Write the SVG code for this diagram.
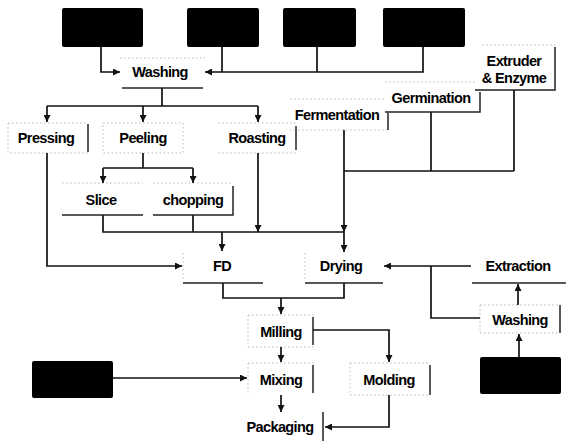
<svg xmlns="http://www.w3.org/2000/svg" width="566" height="441" viewBox="0 0 566 441">
<defs>
<marker id="ah" viewBox="0 0 7 7" refX="7" refY="3.5" markerWidth="7" markerHeight="7" markerUnits="userSpaceOnUse" orient="auto">
<path d="M0,0 L7,3.5 L0,7 z" fill="#111"/>
</marker>
<style>
.t{font-family:"Liberation Sans",Arial,sans-serif;font-weight:bold;font-size:14.5px;text-anchor:middle;fill:#000;letter-spacing:-0.6px}
.blk{fill:#000}
.dot{stroke:#b0b0b0;stroke-width:0.9;stroke-dasharray:1.5 2.5;fill:none}
.sol{stroke:#222;stroke-width:1.5;fill:none}
.e{stroke:#111;stroke-width:1.7;fill:none}
.a{marker-end:url(#ah)}
</style>
</defs>
<rect width="566" height="441" fill="#fff"/>

<g id="src1"><rect class="blk" x="62" y="8" width="81" height="39" rx="2"/></g>
<g id="src2"><rect class="blk" x="187" y="8" width="72" height="39" rx="2"/></g>
<g id="src3"><rect class="blk" x="283" y="8" width="73" height="39" rx="2"/></g>
<g id="src4"><rect class="blk" x="383" y="8" width="82" height="39" rx="2"/></g>
<g id="src5"><rect class="blk" x="480" y="357" width="81" height="37" rx="2"/></g>
<g id="src6"><rect class="blk" x="32" y="361" width="81" height="37" rx="2"/></g>

<g id="washing1">
<path class="dot" d="M120 58 H205"/>
<path class="sol" d="M122 88 H203"/>
<text class="t" x="160" y="77">Washing</text>
</g>
<g id="pressing">
<path class="dot" d="M8 123 H88 M8 123 V153 H88"/>
<path class="sol" d="M88 124 V152"/>
<text class="t" x="46" y="143">Pressing</text>
</g>
<g id="peeling">
<path class="dot" d="M103 123 H183 V153 H103 Z"/>
<text class="t" x="143" y="143">Peeling</text>
</g>
<g id="roasting">
<path class="dot" d="M218 123 H296 M218 153 H296"/>
<path class="sol" d="M296 126 V150"/>
<text class="t" x="257" y="143">Roasting</text>
</g>
<g id="fermentation">
<path class="dot" d="M290 99 H385 M290 130 H388"/>
<path class="sol" d="M388 113 V130"/>
<text class="t" x="337" y="120">Fermentation</text>
</g>
<g id="germination">
<path class="dot" d="M385 82 H476"/>
<path class="sol" d="M385 112 H480 V92"/>
<text class="t" x="431" y="103">Germination</text>
</g>
<g id="extruder">
<path class="dot" d="M482 45 H555"/>
<path class="sol" d="M475 90 H555 V47"/>
<text class="t" x="514" y="66">Extruder</text>
<text class="t" x="514" y="83">&amp; Enzyme</text>
</g>
<g id="slice">
<path class="dot" d="M62 183 H143"/>
<path class="sol" d="M62 215 H143"/>
<text class="t" x="101" y="205">Slice</text>
</g>
<g id="chopping">
<path class="dot" d="M153 183 H233"/>
<path class="sol" d="M153 215 H233 V186"/>
<text class="t" x="193" y="205">chopping</text>
</g>
<g id="fd">
<path class="dot" d="M183 253 V280"/>
<path class="sol" d="M183 283 H263"/>
<text class="t" x="222" y="271">FD</text>
</g>
<g id="drying">
<path class="dot" d="M305 253 V280"/>
<path class="sol" d="M305 283 H383"/>
<text class="t" x="341" y="271">Drying</text>
</g>
<g id="extraction">
<path class="sol" d="M472 283 H566"/>
<text class="t" x="518" y="271">Extraction</text>
</g>
<g id="washing2">
<path class="dot" d="M480 305 H560 M480 305 V333 H560"/>
<path class="sol" d="M560 305 V333"/>
<text class="t" x="520" y="325">Washing</text>
</g>
<g id="milling">
<path class="dot" d="M248 315 H313 M248 315 V347 H313"/>
<path class="sol" d="M313 317 V345"/>
<text class="t" x="281" y="337">Milling</text>
</g>
<g id="mixing">
<path class="dot" d="M248 363 H313 M248 363 V395"/>
<path class="sol" d="M313 365 V393"/>
<text class="t" x="281" y="385">Mixing</text>
</g>
<g id="molding">
<path class="dot" d="M350 363 H430 M350 363 V395 H430"/>
<path class="sol" d="M430 365 V395"/>
<text class="t" x="389" y="385">Molding</text>
</g>
<g id="packaging">
<path class="sol" d="M323 412 V441"/>
<text class="t" x="280" y="432">Packaging</text>
</g>

<g id="connectors">
<path class="e a" d="M101 47 V72 H120"/>
<path class="e a" d="M423 47 V72 H205"/>
<path class="e" d="M222 47 V72 M317 47 V72"/>
<path class="e" d="M162 88 V106 M47 106 H258"/>
<path class="e a" d="M47 106 V122"/>
<path class="e a" d="M143 106 V122"/>
<path class="e a" d="M258 106 V122"/>
<path class="e" d="M143 153 V168 M103 168 H193"/>
<path class="e a" d="M103 168 V183"/>
<path class="e a" d="M193 168 V183"/>
<path class="e" d="M103 215 V232 H344 M193 215 V232"/>
<path class="e a" d="M258 153 V232"/>
<path class="e a" d="M222 232 V251"/>
<path class="e a" d="M344 130 V232"/>
<path class="e a" d="M344 232 V252"/>
<path class="e" d="M431 112 V171 M514 90 V171 M344 171 H514"/>
<path class="e a" d="M47 153 V266 H182"/>
<path class="e a" d="M471 266 H384"/>
<path class="e" d="M431 266 V318 H480"/>
<path class="e a" d="M518 305 V284"/>
<path class="e a" d="M519 357 V334"/>
<path class="e" d="M223 283 V298 H344 V283"/>
<path class="e a" d="M281 298 V314"/>
<path class="e a" d="M313 330 H389 V362"/>
<path class="e a" d="M281 347 V362"/>
<path class="e a" d="M281 395 V412"/>
<path class="e a" d="M389 395 V427 H325"/>
<path class="e a" d="M113 378 H247"/>
</g>
</svg>
